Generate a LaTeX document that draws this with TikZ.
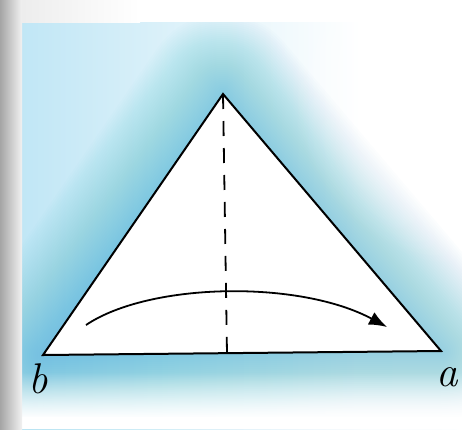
\documentclass[tikz,border=0pt]{standalone}
\usepackage{fontspec}
\usetikzlibrary{arrows.meta,fadings}
\definecolor{wash}{RGB}{60,178,225}
\definecolor{edgegray}{RGB}{165,165,165}
\tikzfading[name=fadedown, top color=transparent!100, bottom color=transparent!0]
\tikzfading[name=fadeout, inner color=transparent!0, outer color=transparent!100]
\tikzset{
  glow/.style={draw=wash, line join=round, line cap=round},
  fold/.style={line width=2pt, line join=miter},
  foldline/.style={line width=1.8pt, dash pattern=on 15pt off 12pt},
  turn/.style={line width=1.8pt, -{Latex[length=18pt,width=14pt]}},
  corner/.style={font=\itshape\fontsize{43}{43}\selectfont, inner sep=0pt}
}
\begin{document}
\begin{tikzpicture}[x=1pt,y=-1pt]
\useasboundingbox (0,0) rectangle (462,429);
\fill[white] (0,0) rectangle (462,429);
\coordinate (apex) at (223,94);
\coordinate (b) at (43,355);
\coordinate (a) at (441,351);
\coordinate (mid) at (227,354);
\begin{scope}
  \clip (22,22) rectangle (462,429);
  % left wash
  \shade[left color=wash!32, right color=white] (22,22) rectangle (360,429);
  % soft glow around triangle
  \foreach \w in {4,8,...,160}{
    \draw[glow, line width=\w pt, opacity=0.017] (apex) -- (b) -- (a) -- cycle;
  }
  % fade to white at the bottom
  \fill[white, path fading=fadedown] (22,372) rectangle (462,418);
  \fill[white] (22,417) rectangle (462,429);
  % fade to white at the top right
  \fill[white, path fading=fadeout] (480,80) circle [radius=190];
\end{scope}
% scanner shadows
\shade[left color=edgegray, right color=white!85!edgegray] (0,0) rectangle (22,429);
\shade[left color=white!80!edgegray, right color=white] (22,0) rectangle (140,22);
% paper
\fill[white] (apex) -- (b) -- (a) -- cycle;
\draw[fold] (apex) -- (b) -- (a) -- cycle;
\draw[foldline] (apex) -- (mid);
\coordinate (s) at (86,325);
\coordinate (e) at (387,327);
\draw[turn] (s) .. controls (150,282) and (300,280) .. (e);
\node[corner] (lb) at (38,379) {b};
\node[corner] (la) at (447,377) {a};
\end{tikzpicture}
\end{document}
